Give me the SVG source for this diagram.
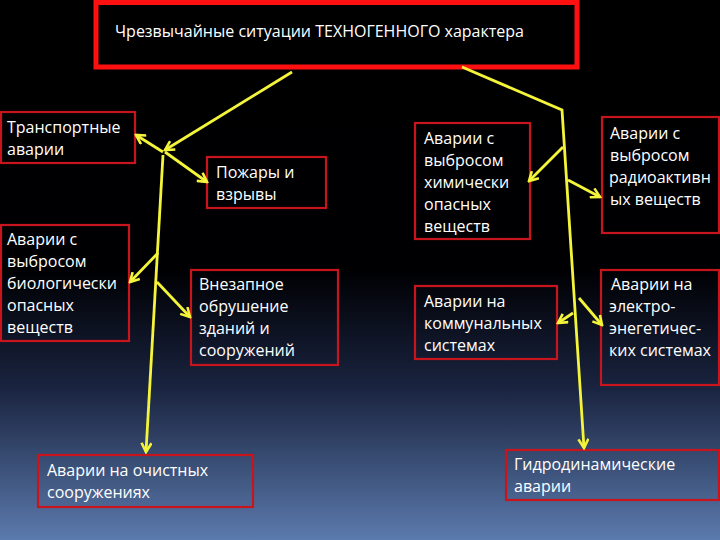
<svg xmlns="http://www.w3.org/2000/svg" width="720" height="540" viewBox="0 0 720 540">
<defs>
<linearGradient id="bg" x1="0" y1="0" x2="0" y2="1">
<stop offset="0" stop-color="#000000"/>
<stop offset="0.5" stop-color="#000003"/>
<stop offset="0.72" stop-color="#1a2440"/>
<stop offset="1" stop-color="#5b7aad"/>
</linearGradient>
<marker id="ah" viewBox="0 0 12 12" refX="10" refY="6" markerWidth="12" markerHeight="12" markerUnits="userSpaceOnUse" orient="auto">
<path d="M1,1 L10,6 L1,11" fill="none" stroke="#f4f43a" stroke-width="2.6" stroke-linejoin="miter"/>
</marker>
<style>
.node rect{fill:none;stroke:#c8141c;stroke-width:2.2}
.node text{font-family:"Open Sans","Noto Sans","DejaVu Sans",sans-serif;font-size:16px;fill:#ffffff}
.conn line,.conn polyline{stroke:#f4f43a;stroke-width:2.8;fill:none;marker-end:url(#ah)}
</style>
</defs>
<rect x="0" y="0" width="720" height="540" fill="url(#bg)"/>
<g id="title" class="node">
<rect x="96" y="2.5" width="481" height="64.5" style="stroke:#ff1010;stroke-width:5"/>
<text x="115" y="37">Чрезвычайные ситуации ТЕХНОГЕННОГО характера</text>
</g>
<g id="n-transport" class="node">
<rect x="1" y="112" width="134" height="51"/>
<text x="7" y="133">Транспортные</text>
<text x="7" y="155">аварии</text>
</g>
<g id="n-fires" class="node">
<rect x="207" y="157" width="119" height="51"/>
<text x="216" y="178">Пожары и</text>
<text x="216" y="200">взрывы</text>
</g>
<g id="n-bio" class="node">
<rect x="1" y="225" width="128" height="116"/>
<text x="7" y="245">Аварии с</text>
<text x="7" y="267">выбросом</text>
<text x="7" y="289">биологически</text>
<text x="7" y="311">опасных</text>
<text x="7" y="333">веществ</text>
</g>
<g id="n-collapse" class="node">
<rect x="191" y="270" width="147" height="95"/>
<text x="199" y="290">Внезапное</text>
<text x="199" y="312">обрушение</text>
<text x="199" y="334">зданий и</text>
<text x="199" y="356">сооружений</text>
</g>
<g id="n-treatment" class="node">
<rect x="38" y="455" width="215" height="52"/>
<text x="47" y="476">Аварии на очистных</text>
<text x="47" y="498">сооружениях</text>
</g>
<g id="n-chem" class="node">
<rect x="415" y="123" width="115" height="116"/>
<text x="424" y="144">Аварии с</text>
<text x="424" y="166">выбросом</text>
<text x="424" y="188">химически</text>
<text x="424" y="210">опасных</text>
<text x="424" y="232">веществ</text>
</g>
<g id="n-radio" class="node">
<rect x="602" y="117" width="117" height="116"/>
<text x="610" y="139">Аварии с</text>
<text x="610" y="161">выбросом</text>
<text x="609" y="183">радиоактивн</text>
<text x="610" y="205">ых веществ</text>
</g>
<g id="n-communal" class="node">
<rect x="415" y="286" width="142" height="73"/>
<text x="424" y="307">Аварии на</text>
<text x="424" y="329">коммунальных</text>
<text x="424" y="351">системах</text>
</g>
<g id="n-power" class="node">
<rect x="601" y="270" width="118" height="115"/>
<text x="611" y="290">Аварии на</text>
<text x="609" y="312">электро-</text>
<text x="609" y="334">энегетичес-</text>
<text x="609" y="356">ких системах</text>
</g>
<g id="n-hydro" class="node">
<rect x="506" y="450" width="213" height="50"/>
<text x="514" y="470">Гидродинамические</text>
<text x="514" y="492">аварии</text>
</g>
<g id="connectors" class="conn">
<line x1="292" y1="72" x2="165" y2="150"/>
<line x1="163" y1="152" x2="136" y2="135"/>
<line x1="165" y1="152" x2="207" y2="182"/>
<line x1="163" y1="155" x2="146" y2="452"/>
<line x1="158" y1="253" x2="130" y2="282"/>
<line x1="157" y1="282" x2="190" y2="317"/>
<polyline points="462,67 562,110 584,448"/>
<line x1="563" y1="147" x2="529" y2="181"/>
<line x1="568" y1="180" x2="600" y2="197"/>
<line x1="573" y1="313" x2="558" y2="323"/>
<line x1="579" y1="298" x2="602" y2="325"/>
</g>
</svg>
